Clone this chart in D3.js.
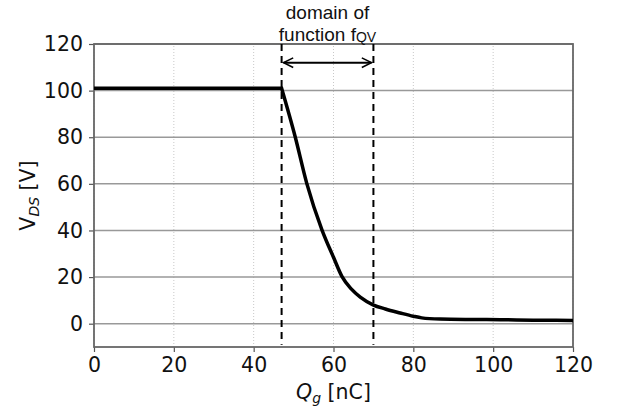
<!DOCTYPE html>
<html>
<head>
<meta charset="utf-8">
<script src="https://cdn.jsdelivr.net/npm/d3@7"></script>
<style>
  body { margin: 0; background: #fff; }
  svg { display: block; }
</style>
</head>
<body>
<svg id="chart" width="618" height="414"></svg>
<script>
// Gate charge curve: drain-source voltage vs. gate charge
const qg  = [0, 47, 50.4, 53.3, 57.1, 60, 62.1, 64.5, 66.7, 69.9, 73, 76.7, 80, 82.1, 86.7, 95, 101.8, 110, 120];
const vds = [101, 101, 80.2, 60.2, 40.3, 28.5, 20.3, 14.8, 11.4, 8.1, 6.3, 4.6, 3.2, 2.5, 2.0, 1.8, 1.7, 1.5, 1.4];

const xTicks = [0, 20, 40, 60, 80, 100, 120];
const yTicks = [0, 20, 40, 60, 80, 100, 120];

// Boundaries of the region where f_QV is defined
const domainBounds = [47, 70];

const svg = d3.select("#chart");
const margin = { left: 94, right: 45, top: 44, bottom: 67 };
const W = 618, H = 414;

const x = d3.scaleLinear().domain([0, 120]).range([margin.left, W - margin.right]);
const y = d3.scaleLinear().domain([-10, 120]).range([H - margin.bottom, margin.top]);

const tickFont = "'DejaVu Sans', sans-serif";

// vertical grid (dotted, light)
svg.append("g").selectAll("line").data(xTicks).join("line")
  .attr("x1", d => x(d)).attr("x2", d => x(d))
  .attr("y1", y(-10)).attr("y2", y(120))
  .attr("stroke", "#c8c8c8").attr("stroke-width", 1)
  .attr("stroke-dasharray", "1,2");

// horizontal grid (solid, grey)
svg.append("g").selectAll("line").data(yTicks).join("line")
  .attr("x1", x(0)).attr("x2", x(120))
  .attr("y1", d => y(d)).attr("y2", d => y(d))
  .attr("stroke", "#999").attr("stroke-width", 1.5);

// axes
const xAxis = d3.axisBottom(x).tickValues(xTicks).tickSize(5).tickPadding(5);
const yAxis = d3.axisLeft(y).tickValues(yTicks).tickSize(5).tickPadding(6);

const gx = svg.append("g").attr("transform", `translate(0,${y(-10)})`).call(xAxis);
const gy = svg.append("g").attr("transform", `translate(${x(0)},0)`).call(yAxis);
[gx, gy].forEach(g => {
  g.select(".domain").remove();
  g.selectAll(".tick line").attr("stroke", "#555").attr("stroke-width", 1.2);
  g.selectAll(".tick text").attr("font-family", tickFont).attr("font-size", 20.5).attr("fill", "#111");
});

// spines
svg.append("rect")
  .attr("x", x(0)).attr("y", y(120))
  .attr("width", x(120) - x(0)).attr("height", y(-10) - y(120))
  .attr("fill", "none").attr("stroke", "#666").attr("stroke-width", 1.8);

// domain boundary lines
svg.append("g").selectAll("line").data(domainBounds).join("line")
  .attr("x1", d => x(d)).attr("x2", d => x(d))
  .attr("y1", y(120)).attr("y2", y(-9))
  .attr("stroke", "#000").attr("stroke-width", 2)
  .attr("stroke-dasharray", "7,5");

// curve: straight plateau up to the knee, then a smooth fall-off
const pts = qg.map((q, i) => [q, vds[i]]);
const plateau = d3.line().x(d => x(d[0])).y(d => y(d[1]));
const falloff = d3.line().x(d => x(d[0])).y(d => y(d[1])).curve(d3.curveMonotoneX);
svg.append("path")
  .attr("d", plateau(pts.slice(0, 2)) + falloff(pts.slice(1)).replace(/^M[^LC]*/, ""))
  .attr("fill", "none").attr("stroke", "#000").attr("stroke-width", 3.5)
  .attr("stroke-linejoin", "miter");

// double-headed arrow spanning the domain
const defs = svg.append("defs");
["start", "end"].forEach(k => {
  defs.append("marker")
    .attr("id", "arrow-" + k)
    .attr("viewBox", "0 0 10 10").attr("refX", 9).attr("refY", 5)
    .attr("markerWidth", 6).attr("markerHeight", 6)
    .attr("markerUnits", "strokeWidth")
    .attr("orient", k === "start" ? "auto-start-reverse" : "auto")
    .append("path").attr("d", "M1,1 L9,5 L1,9")
    .attr("fill", "none").attr("stroke", "#000").attr("stroke-width", 1.3);
});
svg.append("line")
  .attr("x1", x(domainBounds[0]) + 2).attr("x2", x(domainBounds[1]) - 2)
  .attr("y1", y(112)).attr("y2", y(112))
  .attr("stroke", "#000").attr("stroke-width", 2)
  .attr("marker-start", "url(#arrow-start)")
  .attr("marker-end", "url(#arrow-end)");

// annotation
const ann = svg.append("text")
  .attr("font-family", "'Liberation Sans', Arial, sans-serif")
  .attr("font-size", 19).attr("fill", "#111").attr("text-anchor", "middle");
ann.append("tspan").attr("x", x((domainBounds[0] + domainBounds[1]) / 2)).attr("y", 19).text("domain of");
const l2 = ann.append("tspan").attr("x", x((domainBounds[0] + domainBounds[1]) / 2)).attr("y", 41);
l2.text("function f");
l2.append("tspan").attr("font-size", 14).attr("dy", 1).text("QV");

// axis labels
const xl = svg.append("text")
  .attr("x", x(60)).attr("y", 399)
  .attr("text-anchor", "middle")
  .attr("font-family", tickFont).attr("font-size", 20.5).attr("fill", "#111");
xl.append("tspan").attr("font-style", "italic").text("Q");
xl.append("tspan").attr("font-style", "italic").attr("font-size", 14).attr("dy", 4).text("g");
xl.append("tspan").attr("dy", -4).text(" [nC]");

const yl = svg.append("text")
  .attr("transform", `translate(35,${y(55)}) rotate(-90)`)
  .attr("text-anchor", "middle")
  .attr("font-family", tickFont).attr("font-size", 20.5).attr("fill", "#111");
yl.append("tspan").text("V");
yl.append("tspan").attr("font-style", "italic").attr("font-size", 14).attr("dy", 4).text("DS");
yl.append("tspan").attr("dy", -4).text(" [V]");
</script>
</body>
</html>
